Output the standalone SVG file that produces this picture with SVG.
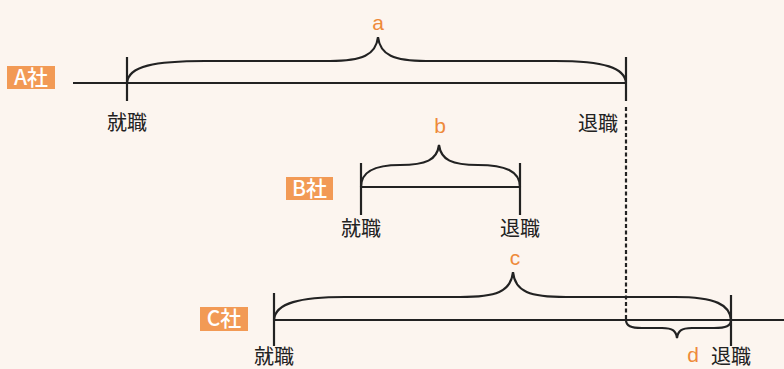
<svg xmlns="http://www.w3.org/2000/svg" width="784" height="369" viewBox="0 0 784 369">
  <defs>
    <style>
      .ln { stroke: #222; stroke-width: 2.2; fill: none; }
      .br { stroke: #222; stroke-width: 2.2; fill: none; stroke-linecap: round; }
      .dash { stroke: #222; stroke-width: 2.2; fill: none; stroke-dasharray: 4 2.5; }
      .tag { fill: #f29a55; }
      .tagt { fill: #fff; font-family: "Noto Sans CJK JP", "Noto Sans", sans-serif; font-size: 21px; font-weight: 500; text-anchor: middle; }
      .lbl { fill: #222; font-family: "Noto Sans CJK JP", sans-serif; font-size: 20px; text-anchor: middle; }
      .let { fill: #ee8a3a; font-family: "Liberation Sans", Arial, sans-serif; font-size: 21px; text-anchor: middle; }
    </style>
  </defs>
  <rect width="784" height="369" fill="#fcf5ef"/>

  <g id="connectors">
    <!-- A row -->
    <line class="ln" x1="73" y1="83" x2="626" y2="83"/>
    <line class="ln" x1="127" y1="57" x2="127" y2="101"/>
    <line class="ln" x1="626" y1="57" x2="626" y2="101"/>
    <line class="dash" x1="626" y1="107" x2="626" y2="320"/>
    <path class="br" d="M127,83 C128,66 155,61 205,61 L330,61 C362,61 376,55 378,37 C380,55 394,61 426,61 L555,61 C605,61 625,68 626,83"/>
    <!-- B row -->
    <line class="ln" x1="361" y1="187" x2="520" y2="187"/>
    <line class="ln" x1="361" y1="163" x2="361" y2="215"/>
    <line class="ln" x1="520" y1="163" x2="520" y2="215"/>
    <path class="br" d="M361,187 C361,171 375,165 400,165 C426,165 437,160 439,145 C441,160 452,165 478,165 C505,165 520,171 520,187"/>
    <!-- C row -->
    <line class="ln" x1="274" y1="320" x2="784" y2="320"/>
    <line class="ln" x1="274" y1="293" x2="274" y2="346"/>
    <line class="ln" x1="731" y1="295" x2="731" y2="346"/>
    <path class="br" d="M274,320 C275,303 300,297 345,297 L460,297 C496,297 511,292 513,272 C515,292 530,297 566,297 L675,297 C716,297 730,305 731,320"/>
    <path class="br" d="M626,320 C626,326 631,328 642,328 L662,328 C673,328 676,331 677,338 C678,331 681,328 692,328 L714,328 C726,328 731,326 731,320"/>
  </g>

  <g id="companyA">
    <rect class="tag" x="7" y="66" width="48" height="23"/>
    <text class="tagt" x="31" y="85">A社</text>
    <text class="lbl" x="127" y="130">就職</text>
    <text class="lbl" x="598" y="131">退職</text>
    <text class="let" x="378" y="30">a</text>
  </g>

  <g id="companyB">
    <rect class="tag" x="286" y="177" width="47" height="23"/>
    <text class="tagt" x="309.5" y="196">B社</text>
    <text class="lbl" x="361" y="236">就職</text>
    <text class="lbl" x="520" y="236">退職</text>
    <text class="let" x="440" y="133">b</text>
  </g>

  <g id="companyC">
    <rect class="tag" x="200" y="307" width="48" height="24"/>
    <text class="tagt" x="224" y="326">C社</text>
    <text class="lbl" x="274" y="364">就職</text>
    <text class="lbl" x="731" y="364">退職</text>
    <text class="let" x="515" y="265">c</text>
    <text class="let" x="693" y="362">d</text>
  </g>
</svg>
